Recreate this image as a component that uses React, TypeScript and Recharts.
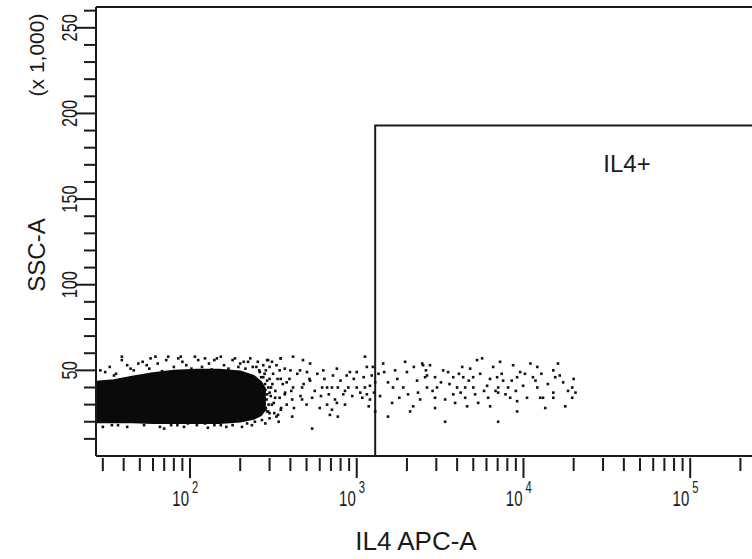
import React from "react";
import {
  Area,
  ComposedChart,
  Label,
  ReferenceArea,
  ReferenceLine,
  Scatter,
  XAxis,
  YAxis,
} from "recharts";

// axis ticks
const xTicks = [
  30, 40, 50, 60, 70, 80, 90, 100, 200, 300, 400, 500, 600, 700, 800, 900,
  1000, 2000, 3000, 4000, 5000, 6000, 7000, 8000, 9000, 10000, 20000, 30000,
  40000, 50000, 60000, 70000, 80000, 90000, 100000, 200000,
];
const xMajor = [100, 1000, 10000, 100000];
const xExponents = ["2", "3", "4", "5"];
const yTicks = [
  10, 20, 30, 40, 50, 60, 70, 80, 90, 100, 110, 120, 130, 140, 150, 160, 170,
  180, 190, 200, 210, 220, 230, 240, 250, 260,
];
const yLabels = [50, 100, 150, 200, 250];

// dense core of the population (SSC-A range at each IL4 level)
const blobX = [27.3, 35, 45, 60, 80, 110, 150, 200, 240, 265, 285];
const blobLow = [20, 20, 20, 19.5, 19.5, 19.5, 19.5, 20.5, 22, 24, 28];
const blobHigh = [43, 44, 46, 48, 49.5, 50, 50, 49, 46.5, 43, 38];

// speckled edge of the core
const fringe: [number, number][] = [
  [39, 58], [39, 56], [49, 54], [58, 57], [62, 58], [74, 58], [85, 57],
  [107, 58], [123, 57], [153, 58], [186, 57], [223, 55], [294, 56], [350, 57],
  [31, 49], [35, 47], [44, 51], [267, 46], [306, 40], [324, 34], [294, 26],
  [337, 24], [352, 28], [245, 20], [194, 21], [153, 18], [123, 19], [97, 19],
  [77, 18], [62, 20], [49, 21], [37, 18], [29, 20], [55, 53], [90, 55],
  [140, 56], [200, 54], [250, 52], [260, 50], [280, 48], [300, 45], [290, 36],
  [280, 30], [310, 30],
  [29, 50], [33, 52], [36, 48], [42, 53], [46, 50], [52, 55], [57, 51],
  [64, 54], [68, 49.5], [72, 56], [80, 52], [88, 58], [95, 53], [102, 51],
  [112, 56], [118, 52], [130, 54], [135, 50.5], [145, 57], [160, 53],
  [170, 51], [180, 56], [195, 52], [210, 55], [215, 51], [230, 57], [238, 52],
  [255, 55], [262, 49], [275, 53], [285, 50], [300, 52], [315, 48], [330, 53],
  [345, 50],
  [30, 17], [34, 18], [42, 17], [53, 18], [66, 17], [70, 16], [84, 18],
  [92, 17], [110, 18], [128, 16.5], [140, 18], [165, 17], [180, 18],
  [205, 17], [220, 19], [235, 18], [270, 21], [283, 19], [300, 22], [320, 25],
  [340, 20],
];

// events spreading to the right
const events: [number, number][] = [
  [290, 56], [310, 55], [350, 57], [415, 58], [476, 56], [525, 54], [370, 51],
  [400, 50], [457, 50], [503, 49], [630, 50], [760, 51], [910, 49], [1000, 49],
  [1120, 58], [1150, 52], [1250, 52], [350, 45], [380, 43], [415, 40],
  [470, 40], [525, 44], [620, 40], [664, 40], [710, 40], [770, 40], [850, 38],
  [890, 40], [1000, 40], [1120, 40], [1200, 41], [1290, 43], [370, 36],
  [410, 33], [470, 33], [540, 34], [600, 28], [664, 30], [710, 27], [760, 31],
  [850, 30], [1080, 34], [1150, 36], [1200, 33], [350, 27], [410, 23],
  [540, 16], [770, 23], [1290, 26], [1540, 23], [290, 26], [330, 23],
  [690, 24], [1440, 54], [1460, 49], [1540, 43], [1650, 40], [1950, 55],
  [2000, 49], [1900, 40], [2030, 36], [2300, 44], [2330, 37], [2470, 54],
  [2640, 47], [2180, 29], [2090, 26], [1630, 31],
  [275, 46], [282, 42], [270, 38], [290, 44], [295, 40], [300, 37], [288, 33],
  [305, 35], [312, 42], [285, 28], [296, 30], [300, 25], [318, 31], [325, 38],
  [335, 45], [345, 34], [360, 42], [372, 37], [380, 30], [395, 45], [405, 38],
  [420, 28], [440, 48], [460, 35], [480, 42], [500, 30], [520, 45], [560, 38],
  [580, 48], [610, 35], [640, 45], [680, 36], [720, 47], [740, 33], [800, 44],
  [830, 36], [870, 47], [940, 35], [960, 45], [1050, 37], [1100, 46],
  [1180, 29], [1230, 47], [1270, 37],
  [2500, 53], [2750, 53], [2570, 46], [2950, 46], [2640, 40], [3030, 40],
  [2950, 34], [2950, 28], [3390, 33], [3390, 20], [3530, 49], [3790, 46],
  [4000, 40], [3790, 36], [3890, 31], [4290, 52], [4350, 46], [4470, 40],
  [4470, 34], [4590, 29], [4790, 51], [4990, 46], [5130, 36], [5350, 31],
  [5270, 56], [5650, 57], [6050, 41], [6140, 34], [6310, 29], [6580, 52],
  [6950, 46], [7240, 55], [7050, 40], [7050, 37], [7050, 20], [7550, 44],
  [8090, 40], [8320, 34], [8670, 53], [9160, 46], [9160, 32], [9160, 26],
  [9550, 49], [9950, 41], [10500, 34], [11000, 54], [11400, 46], [12100, 52],
  [12100, 40], [12600, 34], [13100, 34], [13500, 28], [15100, 50],
  [15500, 46], [15100, 37], [15100, 34], [16100, 54], [17300, 43],
  [17800, 29], [19600, 40], [19600, 34],
  [1350, 48], [1380, 35], [1700, 50], [1750, 45], [1800, 34], [2200, 52],
  [2400, 33], [2600, 50], [2850, 38], [3200, 43], [3300, 50], [3600, 42],
  [4100, 48], [4200, 37], [4700, 44], [5000, 40], [5500, 48], [5800, 38],
  [6300, 45], [6800, 38], [7400, 48], [7800, 36], [8500, 44], [9000, 38],
  [10200, 48], [11800, 44], [12800, 48], [14000, 42], [16500, 47],
  [18500, 38], [20500, 37], [20000, 45],
];

// IL4+ gate
const gateX = [1290, 262144];
const gateTop = 193;
const gateLabel = { x: 41800, y: 171, text: "IL4+" };

const X_MIN = 27.3;
const X_MAX = 262144;
const Y_MAX = 262.144;
const FONT = "'Liberation Sans', Arial, sans-serif";
const INK = "#1a1a1a";

const blobData = blobX.map((x, i) => ({ x, range: [blobLow[i], blobHigh[i]] }));
const dotData = [...fringe, ...events].map(([x, y]) => ({ x, y }));

const Dot = (props: any) => (
  <rect x={props.cx - 1.3} y={props.cy - 1.3} width={2.6} height={2.6} fill="#111" />
);

const XTick = (props: any) => {
  const { x, y, payload } = props;
  const i = xMajor.indexOf(payload.value);
  const major = i >= 0;
  return (
    <g>
      <line x1={x} x2={x} y1={y + 2} y2={y + (major ? 22 : 15)} stroke={INK} strokeWidth={2} />
      {major && (
        <text
          transform={`translate(${x - 1} ${y + 50}) scale(0.68 1)`}
          textAnchor="end"
          fontSize={22}
          fontFamily={FONT}
          fill={INK}
        >
          10
        </text>
      )}
      {major && (
        <text
          transform={`translate(${x + 2} ${y + 37}) scale(0.7 1)`}
          textAnchor="start"
          fontSize={16}
          fontFamily={FONT}
          fill={INK}
        >
          {xExponents[i]}
        </text>
      )}
    </g>
  );
};

const YTick = (props: any) => {
  const { x, y, payload } = props;
  const major = yLabels.includes(payload.value);
  const lx = x - 27;
  return (
    <g>
      <line x1={x - (major ? 21 : 12)} x2={x} y1={y} y2={y} stroke={INK} strokeWidth={2} />
      {major && (
        <text
          transform={`translate(${lx} ${y}) rotate(-90) scale(0.74 1)`}
          textAnchor="middle"
          dominantBaseline="central"
          fontSize={22}
          fontFamily={FONT}
          fill={INK}
        >
          {payload.value}
        </text>
      )}
    </g>
  );
};

const YTitle = () => (
  <g>
    <text
      transform="translate(36 255) rotate(-90)"
      textAnchor="middle"
      dominantBaseline="central"
      fontSize={24}
      fontFamily={FONT}
      fill={INK}
    >
      SSC-A
    </text>
    <text
      transform="translate(36 55) rotate(-90)"
      textAnchor="middle"
      dominantBaseline="central"
      fontSize={21}
      fontFamily={FONT}
      fill={INK}
    >
      (x 1,000)
    </text>
  </g>
);

const XTitle = () => (
  <text x={416} y={550} textAnchor="middle" fontSize={26} fontFamily={FONT} fill={INK}>
    IL4 APC-A
  </text>
);

const GateText = (props: any) => (
  <text
    x={props.cx}
    y={props.cy}
    textAnchor="middle"
    dominantBaseline="central"
    fontSize={24}
    fontFamily={FONT}
    fill={INK}
  >
    {gateLabel.text}
  </text>
);

export default function App() {
  return (
    <div
      style={{
        position: "absolute",
        left: 0,
        top: 0,
        width: 752,
        height: 559,
        overflow: "hidden",
        background: "#fff",
      }}
    >
      <ComposedChart
        width={770}
        height={559}
        data={blobData}
        margin={{ top: 7, right: 10, left: 0, bottom: 0 }}
      >
        <XAxis
          dataKey="x"
          type="number"
          scale="log"
          domain={[X_MIN, X_MAX]}
          allowDataOverflow
          ticks={xTicks}
          interval={0}
          tick={<XTick />}
          tickSize={0}
          tickMargin={0}
          height={103}
          axisLine={{ stroke: INK, strokeWidth: 2 }}
        >
          <Label content={<XTitle />} />
        </XAxis>
        <YAxis
          type="number"
          domain={[0, Y_MAX]}
          allowDataOverflow
          ticks={yTicks}
          interval={0}
          tick={<YTick />}
          tickSize={0}
          tickMargin={0}
          width={96}
          axisLine={{ stroke: INK, strokeWidth: 2 }}
        >
          <Label content={<YTitle />} />
        </YAxis>
        <ReferenceLine y={Y_MAX} stroke={INK} strokeWidth={2} ifOverflow="visible" />
        <Area
          dataKey="range"
          type="linear"
          fill="#0a0a0a"
          fillOpacity={1}
          stroke="#0a0a0a"
          strokeWidth={3}
          isAnimationActive={false}
          dot={false}
          activeDot={false}
        />
        <Scatter data={dotData} dataKey="y" shape={<Dot />} isAnimationActive={false} />
        <ReferenceArea
          x1={gateX[0]}
          x2={gateX[1]}
          y1={0}
          y2={gateTop}
          fill="none"
          fillOpacity={0}
          stroke={INK}
          strokeWidth={2}
          ifOverflow="visible"
        />
        <Scatter
          data={[{ x: gateLabel.x, y: gateLabel.y }]}
          dataKey="y"
          shape={<GateText />}
          isAnimationActive={false}
        />
      </ComposedChart>
    </div>
  );
}
